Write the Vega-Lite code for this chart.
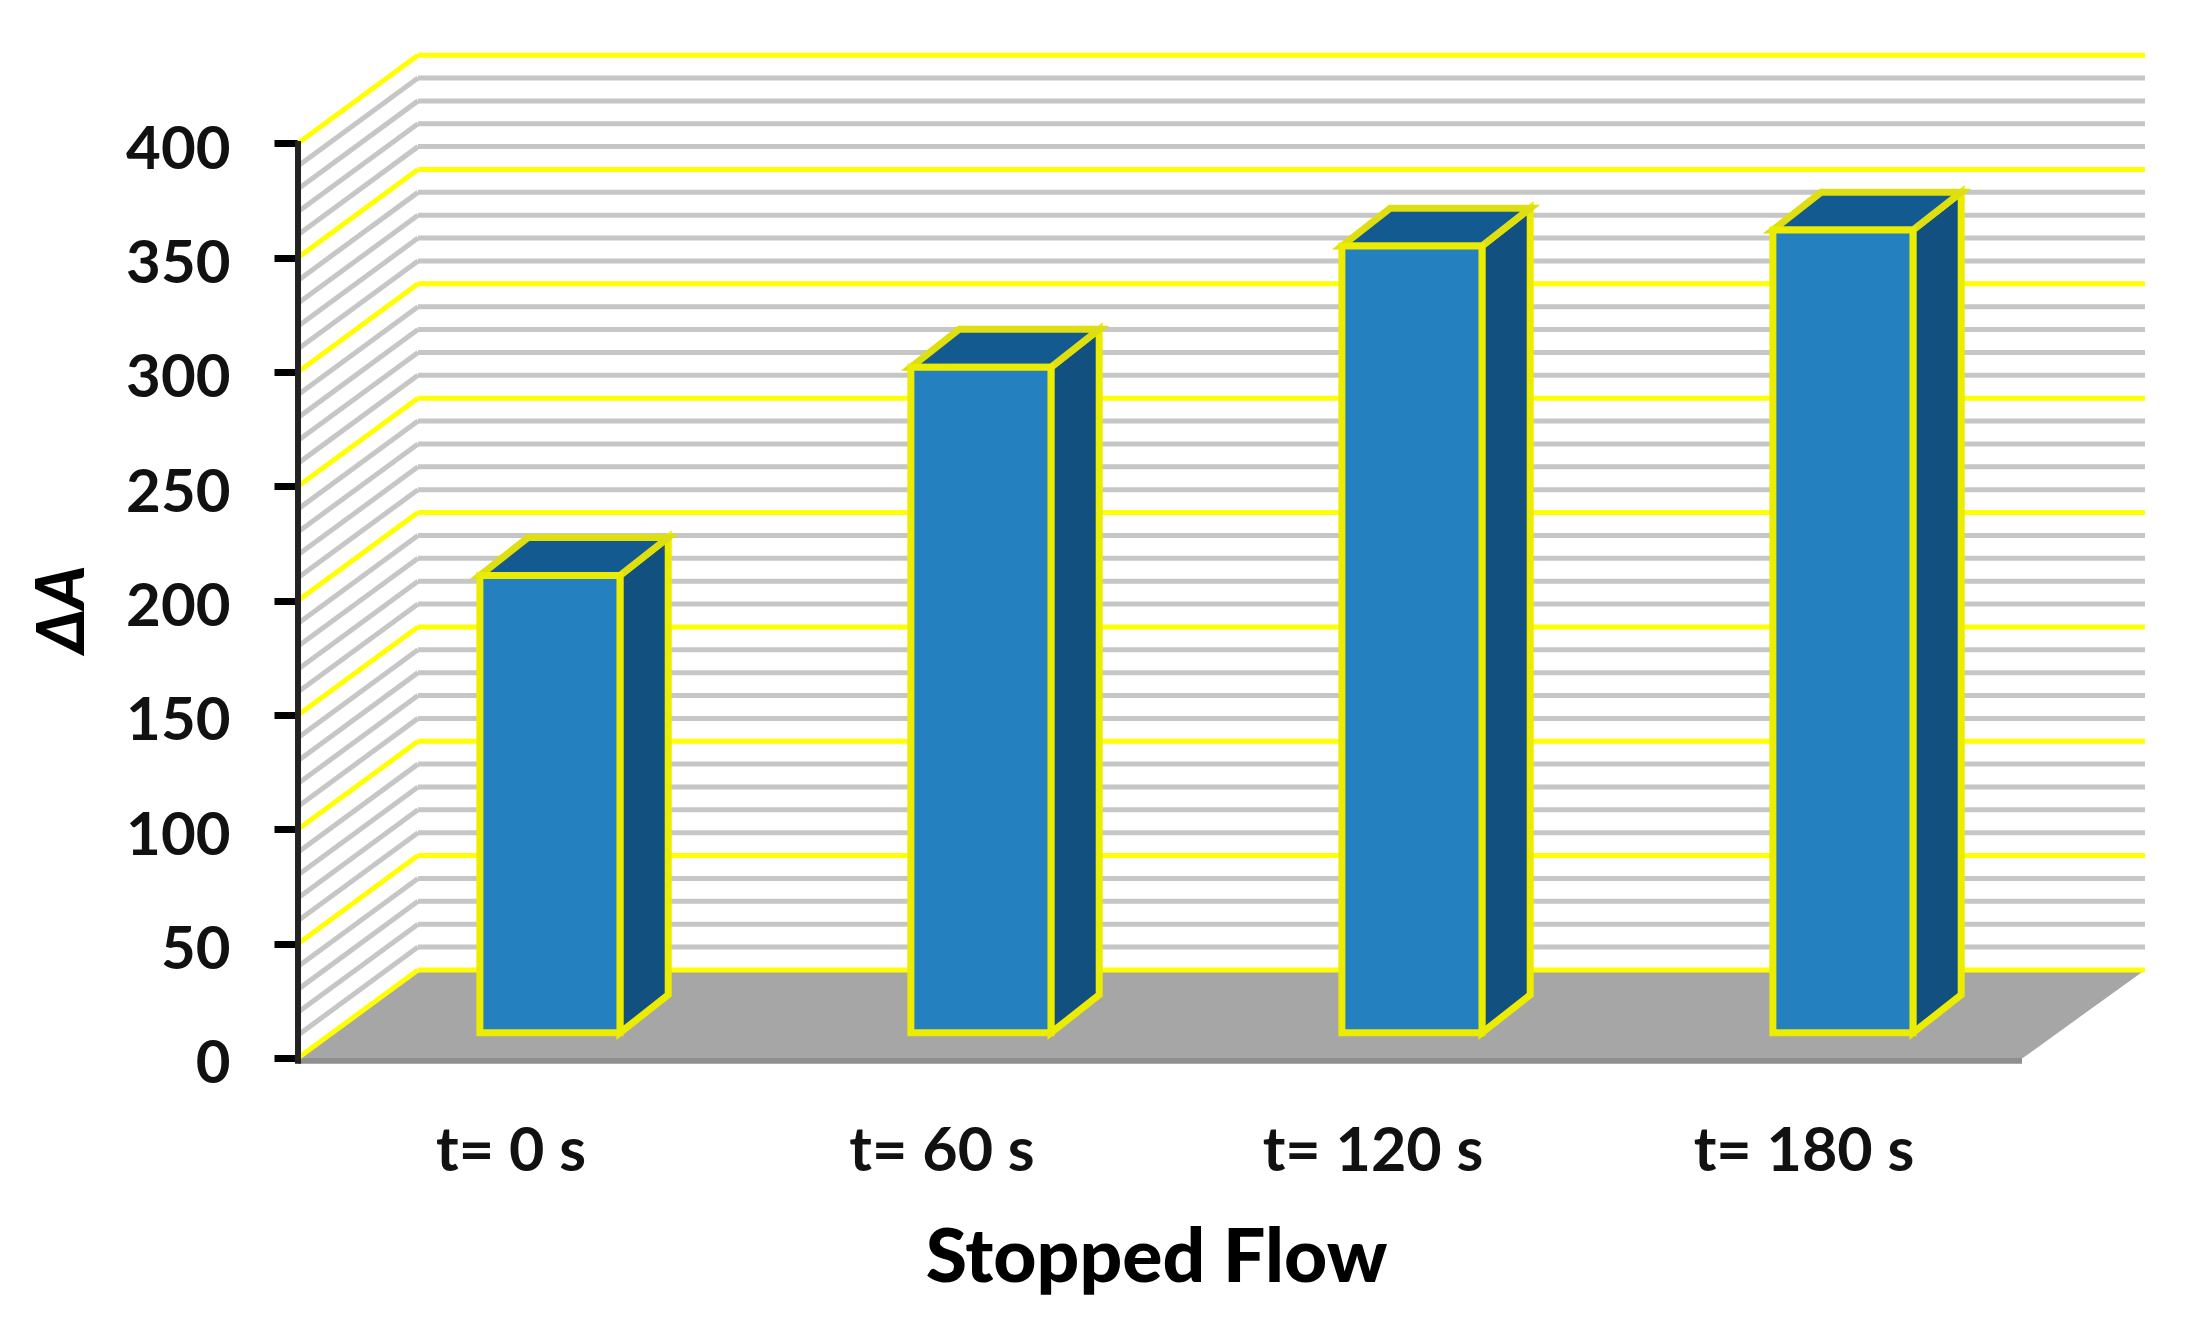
{"$schema":"https://vega.github.io/schema/vega-lite/v6.json","width":1847,"height":1012,"autosize":{"type":"none"},"padding":{"left":298,"top":54,"right":52,"bottom":257},"background":"white","view":{"stroke":null},
"datasets":{"bars":[{"time":"t= 0 s","slot":0,"dA":200},{"time":"t= 60 s","slot":1,"dA":291},{"time":"t= 120 s","slot":2,"dA":344},{"time":"t= 180 s","slot":3,"dA":351}],
"grid":[{"v":10,"kind":"minor"},{"v":20,"kind":"minor"},{"v":30,"kind":"minor"},{"v":40,"kind":"minor"},{"v":60,"kind":"minor"},{"v":70,"kind":"minor"},{"v":80,"kind":"minor"},{"v":90,"kind":"minor"},{"v":110,"kind":"minor"},{"v":120,"kind":"minor"},{"v":130,"kind":"minor"},{"v":140,"kind":"minor"},{"v":160,"kind":"minor"},{"v":170,"kind":"minor"},{"v":180,"kind":"minor"},{"v":190,"kind":"minor"},{"v":210,"kind":"minor"},{"v":220,"kind":"minor"},{"v":230,"kind":"minor"},{"v":240,"kind":"minor"},{"v":260,"kind":"minor"},{"v":270,"kind":"minor"},{"v":280,"kind":"minor"},{"v":290,"kind":"minor"},{"v":310,"kind":"minor"},{"v":320,"kind":"minor"},{"v":330,"kind":"minor"},{"v":340,"kind":"minor"},{"v":360,"kind":"minor"},{"v":370,"kind":"minor"},{"v":380,"kind":"minor"},{"v":390,"kind":"minor"},{"v":0,"kind":"major"},{"v":50,"kind":"major"},{"v":100,"kind":"major"},{"v":150,"kind":"major"},{"v":200,"kind":"major"},{"v":250,"kind":"major"},{"v":300,"kind":"major"},{"v":350,"kind":"major"},{"v":400,"kind":"major"}],
"floor":[{"depth":0},{"depth":1}]},
"encoding":{
"y":{"type":"quantitative","scale":{"domain":[-3.5,439],"nice":false,"zero":false},
"axis":{"values":[0,50,100,150,200,250,300,350,400],"domain":false,"grid":false,"tickColor":"#000000","tickWidth":7,"tickSize":24,"labelFont":"Lato","labelFontWeight":"bold","labelFontSize":60,"labelColor":"#111111","labelPadding":44,"labelOffset":7,"labelOverlap":false,"labelBound":false,"labelFlush":false,"labelLimit":600,"format":"d","title":"ΔA","titleFont":"Lato","titleFontWeight":900,"titleFontStyle":"italic","titleFontSize":66,"titleColor":"#000000","titleX":-235,"titleY":555,"titleAlign":"center","titleBaseline":"middle"}},
"x":{"type":"quantitative","scale":{"domain":[0,4.2854],"nice":false,"zero":false},
"axis":{"values":[0.5,1.5,2.5,3.5],"domain":false,"ticks":false,"grid":false,"labelExpr":"'t= ' + ((datum.value-0.5)*60) + ' s'","labelFont":"Lato","labelFontWeight":"bold","labelFontSize":61,"labelColor":"#111111","labelPadding":56,"labelOffset":-3,"labelOverlap":false,"labelBound":false,"labelFlush":false,"labelLimit":600,"title":"Stopped Flow","titleFont":"Lato","titleFontWeight":900,"titleFontSize":75,"titleColor":"#000000","titleX":858,"titleY":192,"titleAlign":"center","titleBaseline":"middle"}}},
"layer":[
{"data":{"name":"floor"},"transform":[{"calculate":"datum.depth*38.5","as":"fy"},{"calculate":"datum.depth*0.2784","as":"fx0"},{"calculate":"4.002+datum.depth*0.2834","as":"fx1"}],
"mark":{"type":"area","orient":"horizontal","fill":"#a6a6a6"},
"encoding":{"y":{"field":"fy"},"x":{"field":"fx0"},"x2":{"field":"fx1"}}},
{"data":{"values":[{"a":0,"b":4,"c":-2.5,"d":0}]},"mark":{"type":"rect","fill":"#8f8f8f"},"encoding":{"x":{"field":"a"},"x2":{"field":"b"},"y":{"field":"c"},"y2":{"field":"d"}}},
{"data":{"name":"grid"},"transform":[{"calculate":"datum.v+38.5","as":"vb"},{"calculate":"0","as":"xf"},{"calculate":"0.2784","as":"xb"}],
"mark":{"type":"rule","strokeWidth":5},
"encoding":{"x":{"field":"xf"},"x2":{"field":"xb"},"y":{"field":"v"},"y2":{"field":"vb"},"color":{"field":"kind","type":"nominal","scale":{"domain":["major","minor"],"range":["#ffff00","#c6c6c6"]},"legend":null}}},
{"data":{"name":"grid"},"transform":[{"calculate":"datum.v+38.5","as":"vb"},{"calculate":"0.2784","as":"xb"},{"calculate":"4.2854","as":"xe"}],
"mark":{"type":"rule","strokeWidth":5},
"encoding":{"x":{"field":"xb"},"x2":{"field":"xe"},"y":{"field":"vb"},"color":{"field":"kind","type":"nominal","scale":{"domain":["major","minor"],"range":["#ffff00","#c6c6c6"]},"legend":null}}},
{"data":{"values":[{"ax":0,"y0":-2.5,"y1":401}]},"mark":{"type":"rule","color":"#222222","strokeWidth":6},"encoding":{"x":{"field":"ax"},"y":{"field":"y0"},"y2":{"field":"y1"}}},
{"data":{"name":"bars"},"transform":[{"calculate":"[0,1]","as":"c"},{"flatten":["c"]},{"calculate":"datum.slot+0.747+datum.c*0.112","as":"sx"},{"calculate":"11+datum.c*16.6","as":"lo"},{"calculate":"11+datum.dA+datum.c*16.6","as":"hi"}],
"mark":{"type":"area","orient":"vertical","fill":"#12507f","stroke":"#ecec00","strokeWidth":7,"strokeJoin":"miter"},
"encoding":{"detail":{"field":"time"},"x":{"field":"sx"},"y":{"field":"lo"},"y2":{"field":"hi"}}},
{"data":{"name":"bars"},"transform":[{"calculate":"[0,1]","as":"c"},{"flatten":["c"]},{"calculate":"datum.slot+0.422+datum.c*0.112","as":"tx0"},{"calculate":"datum.slot+0.747+datum.c*0.112","as":"tx1"},{"calculate":"11+datum.dA+datum.c*16.6","as":"ty"}],
"mark":{"type":"area","orient":"horizontal","fill":"#125a90","stroke":"#dede10","strokeWidth":7},
"encoding":{"detail":{"field":"time"},"x":{"field":"tx0"},"x2":{"field":"tx1"},"y":{"field":"ty"}}},
{"data":{"name":"bars"},"transform":[{"calculate":"datum.slot+0.422","as":"x0"},{"calculate":"datum.slot+0.747","as":"x1"},{"calculate":"11","as":"base"},{"calculate":"11+datum.dA","as":"top"}],
"mark":{"type":"rect","fill":"#2580c0","stroke":"#ecec00","strokeWidth":7},
"encoding":{"x":{"field":"x0"},"x2":{"field":"x1"},"y":{"field":"base"},"y2":{"field":"top"}}}
]}
